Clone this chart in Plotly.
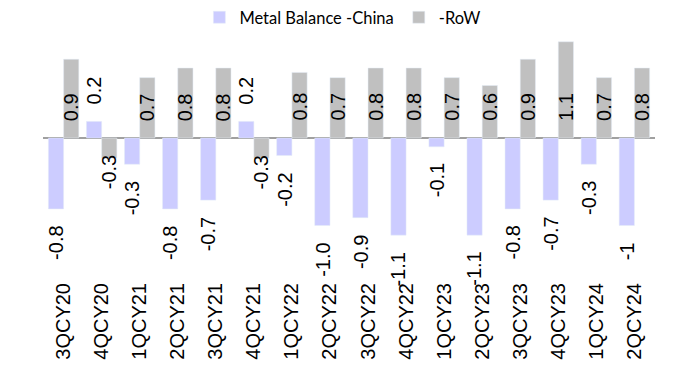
import plotly.graph_objects as go

categories = ["3QCY20", "4QCY20", "1QCY21", "2QCY21", "3QCY21", "4QCY21", "1QCY22", "2QCY22",
              "3QCY22", "4QCY22", "1QCY23", "2QCY23", "3QCY23", "4QCY23", "1QCY24", "2QCY24"]
china = [-0.81, 0.19, -0.30, -0.81, -0.71, 0.19, -0.20, -1.00, -0.91, -1.11, -0.10, -1.11, -0.81, -0.71, -0.30, -1.00]
row = [0.90, -0.23, 0.69, 0.80, 0.80, -0.23, 0.75, 0.69, 0.80, 0.80, 0.69, 0.60, 0.90, 1.10, 0.69, 0.80]
china_labels = ["-0.8", "0.2", "-0.3", "-0.8", "-0.7", "0.2", "-0.2", "-1.0", "-0.9", "-1.1", "-0.1", "-1.1",
                "-0.8", "-0.7", "-0.3", "-1"]
row_labels = ["0.9", "-0.3", "0.7", "0.8", "0.8", "-0.3", "0.8", "0.7", "0.8", "0.8", "0.7", "0.6",
              "0.9", "1.1", "0.7", "0.8"]

CHINA_COLOR = "#ccccff"
ROW_COLOR = "#c0c0c0"
TEXT_FAMILY = "Arial, Liberation Sans, sans-serif"
LABEL_FONT = dict(family=TEXT_FAMILY, size=20, color="#000000")

fig = go.Figure()
fig.add_trace(go.Bar(x=categories, y=china, name="Metal Balance -China", marker_color=CHINA_COLOR))
fig.add_trace(go.Bar(x=categories, y=row, name="-RoW", marker_color=ROW_COLOR))

annotations = []
OFF = 7.6
GAP = 15
for c, v, t in zip(categories, china, china_labels):
    pos = v >= 0
    annotations.append(dict(x=c, y=v, text=t, showarrow=False, textangle=-90, xshift=-OFF,
                            yshift=GAP if pos else -GAP, yanchor="bottom" if pos else "top",
                            xanchor="center", font=LABEL_FONT))
for c, v, t in zip(categories, row, row_labels):
    pos = v >= 0
    annotations.append(dict(x=c, y=0, text=t, showarrow=False, textangle=-90, xshift=OFF,
                            yshift=GAP if pos else -GAP, yanchor="bottom" if pos else "top",
                            xanchor="center", font=LABEL_FONT))

fig.update_layout(
    width=678, height=365,
    margin=dict(l=43, r=23, t=40, b=87, autoexpand=False),
    plot_bgcolor="white", paper_bgcolor="white",
    barmode="group", bargap=0.2, bargroupgap=0,
    showlegend=True,
    legend=dict(orientation="h", xref="container", yref="container", x=0.505, y=1.0,
                xanchor="center", yanchor="top",
                font=dict(family="Lato, Carlito, Calibri, sans-serif", size=16.5, color="#000000"),
                traceorder="normal"),
    xaxis=dict(showgrid=False, showline=False, ticks="", tickangle=-90,
               tickfont=dict(family=TEXT_FAMILY, size=20, color="#000000")),
    yaxis=dict(range=[-1.6, 1.12], showgrid=False, showticklabels=False, ticks="",
               zeroline=True, zerolinecolor="#a0a0a0", zerolinewidth=2, showline=False),
    annotations=annotations,
)

fig.write_html("out.html")
